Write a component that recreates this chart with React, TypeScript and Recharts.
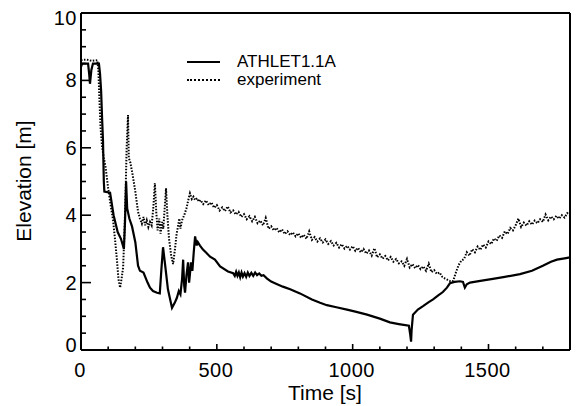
import { LineChart, Line, XAxis, YAxis, Legend } from "recharts";

const FONT = '"Liberation Sans", Arial, Helvetica, sans-serif';

// ATHLET1.1A calculation: time [s] / collapsed level [m]
const athletTime = [
  0, 4, 26, 30, 33, 38, 44, 66, 70, 74,
  78, 81, 84, 86, 107, 120, 135, 147, 158, 162,
  166, 170, 178, 188, 200, 210, 217, 230, 245, 254,
  265, 280, 290, 296, 302, 310, 320, 335, 345, 353,
  360, 366, 372, 376, 380, 383, 388, 394, 398, 401,
  405, 410, 415, 420, 426, 430, 438, 449, 462, 475,
  493, 512, 541, 560, 566, 571, 576, 581, 586, 591,
  596, 602, 608, 614, 620, 627, 634, 641, 648, 656,
  664, 672, 685, 700, 720, 743, 770, 806, 850, 880,
  905, 940, 979, 1010, 1053, 1100, 1137, 1170, 1207, 1212,
  1215, 1217, 1222, 1240, 1259, 1280, 1296, 1315, 1332, 1347,
  1358, 1375, 1395, 1406, 1413, 1420, 1432, 1470, 1516, 1560,
  1616, 1660, 1700, 1730, 1752, 1780, 1800,
];
const athletElev = [
  8.4, 8.5, 8.5, 8.2, 7.9, 8.3, 8.5, 8.5, 8.2, 7.7,
  6.8, 6.2, 5.0, 4.7, 4.67, 4.0, 3.5, 3.3, 3.0, 3.8,
  5.0, 4.2, 3.9, 3.66, 3.2, 2.5, 2.35, 2.3, 2.0, 1.85,
  1.75, 1.7, 1.68, 2.4, 3.05, 2.5, 1.8, 1.25, 1.4, 1.55,
  1.75, 1.65, 2.1, 2.68, 1.9, 1.7, 2.2, 2.6, 2.0, 2.25,
  2.6, 2.35, 2.9, 3.37, 3.1, 3.2, 3.1, 2.98, 2.88, 2.77,
  2.68, 2.48, 2.33, 2.28, 2.2, 2.32, 2.2, 2.3, 2.16, 2.3,
  2.18, 2.28, 2.17, 2.3, 2.2, 2.29, 2.2, 2.3, 2.22, 2.27,
  2.2, 2.22, 2.12, 2.03, 1.96, 1.88, 1.8, 1.68, 1.5, 1.4,
  1.33, 1.27, 1.2, 1.14, 1.05, 0.93, 0.82, 0.77, 0.72, 0.45,
  0.25, 0.6, 1.05, 1.2, 1.3, 1.42, 1.5, 1.62, 1.72, 1.85,
  1.98, 2.02, 2.04, 2.02, 1.85, 1.95, 2.0, 2.05, 2.11, 2.17,
  2.25, 2.35, 2.5, 2.62, 2.68, 2.72, 2.75,
];

// measured level
const expTime = [
  0, 20, 40, 60, 64, 68, 72, 78, 84, 90,
  100, 110, 118, 125, 132, 138, 144, 150, 155, 160,
  164, 168, 173, 176, 182, 190, 200, 210, 217, 224,
  230, 236, 242, 248, 254, 260, 266, 272, 277, 282,
  288, 293, 298, 303, 308, 313, 318, 324, 332, 339,
  346, 352, 358, 362, 366, 372, 380, 388, 395, 401,
  408, 414, 420, 428, 434,
  440, 450, 460, 470, 480, 490, 500, 510, 520, 530,
  540, 550, 560, 570, 580, 590, 600, 610, 620, 630,
  640, 650, 660, 670, 680, 690, 700, 710, 720, 730,
  740, 750, 760, 770, 780, 790, 800, 810, 820, 830,
  840, 850, 860, 870, 880, 890, 900, 910, 920, 930,
  940, 950, 960, 970, 980, 990, 1000, 1010, 1020, 1030,
  1040, 1050, 1060, 1070, 1080, 1090, 1100, 1110, 1120, 1130,
  1140, 1150, 1160, 1170, 1180, 1190, 1200, 1210, 1220, 1230,
  1240, 1250, 1260, 1270, 1280, 1290, 1300, 1310, 1320, 1330,
  1340, 1350, 1360, 1370, 1380, 1390, 1400, 1410, 1420, 1430,
  1440, 1450, 1460, 1470, 1480, 1490, 1500, 1510, 1520, 1530,
  1540, 1550, 1560, 1570, 1580, 1590, 1600, 1610, 1620, 1630,
  1640, 1650, 1660, 1670, 1680, 1690, 1700, 1710, 1720, 1730,
  1740, 1750, 1760, 1770, 1780, 1790, 1800,
];
const expElev = [
  8.6, 8.62, 8.58, 8.6, 8.3, 7.4, 6.6, 6.0, 5.7, 5.45,
  4.8, 4.25, 3.86, 3.3, 2.7, 2.1, 1.85, 2.15, 2.45, 3.5,
  4.6, 6.0, 6.97, 5.7, 5.55, 5.2, 4.7, 4.1, 3.9, 3.75,
  3.95, 3.7, 3.85, 3.65, 3.8, 3.7, 4.2, 4.95, 4.1, 3.55,
  3.9, 3.45, 3.8, 3.6, 4.2, 4.8, 4.0, 3.3, 2.8, 2.55,
  3.0, 3.45, 3.7, 3.9, 3.6, 3.85, 4.0, 4.2, 4.45, 4.65,
  4.48, 4.55, 4.45, 4.5, 4.4,
  4.45, 4.33, 4.44, 4.3, 4.38, 4.22, 4.3, 4.14, 4.23, 4.12,
  4.26, 4.08, 4.14, 4.02, 4.1, 3.95, 4.03, 3.88, 3.97, 3.82,
  3.95, 3.76, 3.84, 3.7, 3.92, 3.6, 3.67, 3.55, 3.62, 3.49,
  3.58, 3.44, 3.52, 3.41, 3.49, 3.37, 3.46, 3.33, 3.42, 3.3,
  3.52, 3.27, 3.35, 3.22, 3.31, 3.19, 3.28, 3.15, 3.23, 3.1,
  3.18, 3.04, 3.14, 3.01, 3.09, 2.98, 3.08, 2.94, 3.03, 2.9,
  3.0, 2.86, 2.95, 2.8, 3.02, 2.75, 2.84, 2.71, 2.79, 2.66,
  2.76, 2.62, 2.7, 2.57, 2.63, 2.5, 2.7, 2.45, 2.55, 2.43,
  2.52, 2.4, 2.48, 2.35, 2.56, 2.31, 2.37, 2.26, 2.3, 2.17,
  2.12, 2.08, 2.04, 2.05, 2.3, 2.52, 2.65, 2.7, 2.9, 2.8,
  2.99, 2.9, 3.07, 2.97, 3.13, 3.04, 3.22, 3.14, 3.31, 3.24,
  3.4, 3.33, 3.52, 3.44, 3.62, 3.55, 3.7, 3.9, 3.65, 3.78,
  3.69, 3.82, 3.72, 3.84, 3.76, 3.88, 3.8, 4.02, 3.85, 3.96,
  3.88, 3.98, 3.9, 4.0, 3.93, 4.06, 4.0,
];

const xTicks = [0, 100, 200, 300, 400, 500, 600, 700, 800, 900, 1000, 1100, 1200, 1300, 1400, 1500, 1600, 1700, 1800];
const xLabels = [0, 500, 1000, 1500];
const yTicks = [0, 0.5, 1, 1.5, 2, 2.5, 3, 3.5, 4, 4.5, 5, 5.5, 6, 6.5, 7, 7.5, 8, 8.5, 9, 9.5, 10];
const yLabels = [0, 2, 4, 6, 8, 10];
const seriesNames = ["ATHLET1.1A", "experiment"];

const athlet = athletTime.map((t, i) => ({ t, h: athletElev[i] }));
const experiment = expTime.map((t, i) => ({ t, h: expElev[i] }));

// inward tick marks, labels only on the major ones
function BottomTick({ x, y, payload }: any) {
  const major = xLabels.includes(payload.value);
  return (
    <g>
      <line x1={x} x2={x} y1={y} y2={y - (major ? 6 : 3.5)} stroke="#000" strokeWidth={1.6} />
      {major && (
        <text x={x - 1} y={y + 27} textAnchor="middle" fontSize={20} fontFamily={FONT} letterSpacing={0.5} fill="#000">
          {payload.value}
        </text>
      )}
    </g>
  );
}

function TopTick({ x, y, payload }: any) {
  const major = xLabels.includes(payload.value);
  return <line x1={x} x2={x} y1={y} y2={y + (major ? 6 : 3.5)} stroke="#000" strokeWidth={1.6} />;
}

function LeftTick({ x, y, payload }: any) {
  const v = payload.value;
  const major = yLabels.includes(v);
  // end labels are pulled inward a little
  const shift = v === 10 ? 5 : v === 0 ? -5 : 0;
  return (
    <g>
      <line x1={x} x2={x + (major ? 10 : 5)} y1={y} y2={y} stroke="#000" strokeWidth={1.6} />
      {major && (
        <text x={x - 4} y={y + shift + 7} textAnchor="end" fontSize={20} fontFamily={FONT} letterSpacing={0.5} fill="#000">
          {v}
        </text>
      )}
    </g>
  );
}

function RightTick({ x, y, payload }: any) {
  const major = yLabels.includes(payload.value);
  return <line x1={x} x2={x - (major ? 7 : 4)} y1={y} y2={y} stroke="#000" strokeWidth={1.6} />;
}

function LegendBox() {
  const row = (name: string, border: string) => (
    <div key={name} style={{ display: "flex", alignItems: "center", height: 18, whiteSpace: "nowrap" }}>
      <span style={{ display: "inline-block", flex: "0 0 33px", borderTop: border, marginRight: 17 }} />
      <span>{name}</span>
    </div>
  );
  return (
    <div style={{ width: 200, fontFamily: FONT, fontSize: 17, color: "#000", lineHeight: "18px" }}>
      {row(seriesNames[0], "2px solid #000")}
      {row(seriesNames[1], "2px dotted #000")}
    </div>
  );
}

// legend box reserves 40px on the left; the left axis takes the other 41px
const LEGEND_W = 40;

export default function App() {
  return (
    <div style={{ position: "absolute", left: 0, top: 0, width: 576, height: 406, background: "#fff" }}>
      <LineChart width={576} height={406} margin={{ top: 12, right: 5, bottom: 0, left: 0 }}>
        <XAxis
          xAxisId="b"
          type="number"
          dataKey="t"
          domain={[0, 1800]}
          ticks={xTicks}
          interval={0}
          height={56}
          tickSize={0}
          tickMargin={0}
          stroke="#000"
          strokeWidth={2}
          tickLine={false}
          tick={<BottomTick />}
          label={{
            content: () => (
              <text x={325} y={400} textAnchor="middle" fontSize={21} fontFamily={FONT} fill="#000">
                Time [s]
              </text>
            ),
          }}
        />
        <XAxis
          xAxisId="t"
          orientation="top"
          type="number"
          domain={[0, 1800]}
          ticks={xTicks}
          interval={0}
          height={1}
          tickSize={0}
          tickMargin={0}
          stroke="#000"
          strokeWidth={2}
          tickLine={false}
          tick={<TopTick />}
        />
        <YAxis
          yAxisId="l"
          type="number"
          domain={[0, 10]}
          ticks={yTicks}
          interval={0}
          width={81 - LEGEND_W}
          tickSize={0}
          tickMargin={0}
          stroke="#000"
          strokeWidth={2}
          tickLine={false}
          tick={<LeftTick />}
          label={{
            content: () => (
              <text
                transform="translate(31,181) rotate(-90)"
                textAnchor="middle"
                fontSize={21}
                fontFamily={FONT}
                fill="#000"
              >
                Elevation [m]
              </text>
            ),
          }}
        />
        <YAxis
          yAxisId="r"
          orientation="right"
          type="number"
          domain={[0, 10]}
          ticks={yTicks}
          interval={0}
          width={1}
          tickSize={0}
          tickMargin={0}
          stroke="#000"
          strokeWidth={2}
          tickLine={false}
          tick={<RightTick />}
        />
        <Legend
          content={LegendBox}
          layout="vertical"
          verticalAlign="top"
          align="left"
          wrapperStyle={{ position: "absolute", left: 187, top: 53, width: LEGEND_W, height: 36 }}
        />
        <Line
          xAxisId="b"
          yAxisId="l"
          data={experiment}
          dataKey="h"
          type="linear"
          dot={false}
          stroke="#000"
          strokeWidth={2}
          strokeDasharray="1.5 1.5"
          isAnimationActive={false}
        />
        <Line
          xAxisId="b"
          yAxisId="l"
          data={athlet}
          dataKey="h"
          type="linear"
          dot={false}
          stroke="#000"
          strokeWidth={2.2}
          isAnimationActive={false}
        />
      </LineChart>
    </div>
  );
}
